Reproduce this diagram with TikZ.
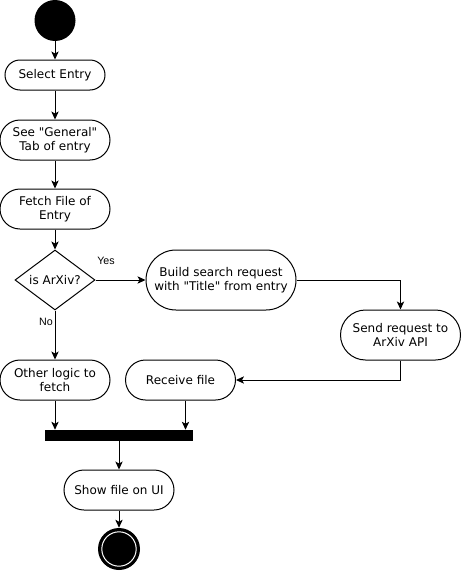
\documentclass[tikz,border=0pt]{standalone}
\usepackage{fontspec}
\setmainfont{DejaVu Sans}[Ligatures=TeXOff]
\newfontfamily\labelfont{Liberation Sans}
\usetikzlibrary{shapes.geometric,arrows.meta}

\tikzset{
  act/.style n args={2}{draw,line width=0.75pt,align=center,inner sep=0pt,
    minimum width=#1*0.75pt,minimum height=#2*0.75pt,rounded corners=#2*0.375pt,
    font=\fontsize{9pt}{10.5pt}\selectfont},
  decision/.style={draw,line width=0.75pt,diamond,aspect=1.333,inner sep=0pt,
    minimum width=60pt,minimum height=45pt,font=\fontsize{9pt}{10.5pt}\selectfont},
  flow/.style={line width=0.75pt,-{Stealth[length=6pt,width=5.5pt,inset=1.5pt]}},
  guard/.style={font=\labelfont\fontsize{8pt}{9.5pt}\selectfont,inner sep=0pt},
}

\begin{document}
\begin{tikzpicture}[x=0.75pt,y=-0.75pt]
  \useasboundingbox[fill=white] (0,0) rectangle (461,571);
  % start and the first steps
  \node[circle,fill=black,minimum size=30.75pt,inner sep=0pt] (start) at (55,20.5) {};
  \node[act={100}{30}] (select) at (55,75) {Select Entry};
  \node[act={110}{40}] (general) at (55,140) {See "General"\\Tab of entry};
  \node[act={110}{40}] (fetch) at (55,209) {Fetch File of\\Entry};
  \node[decision] (arxiv) at (55,280) {is ArXiv?};
  % arXiv branch
  \node[act={150}{60}] (build) at (221,280) {Build search request\\with "Title" from entry};
  \node[act={120}{50}] (send) at (400.5,335) {Send request to\\ArXiv API};
  \node[act={110}{40}] (receive) at (180.5,380) {Receive file};
  \node[act={110}{40}] (other) at (55,380) {Other logic to\\fetch};
  % join and end
  \node[rectangle,fill=black,minimum width=111pt,minimum height=8.25pt,inner sep=0pt] (join) at (119,435.5) {};
  \node[act={110}{40}] (show) at (119,490) {Show file on UI};
  \node[circle,fill=black,minimum size=31.5pt,inner sep=0pt] (stop) at (119,549) {};
  \draw[white,line width=0.75pt] (stop.center) circle[radius=12.9pt];%<- inner ring

  \draw[flow] (start) -- (select);
  \draw[flow] (select) -- (general);
  \draw[flow] (general) -- (fetch);
  \draw[flow] (fetch) -- (arxiv);
  \draw[flow] (arxiv) -- (build);
  \draw[flow] (build.east) -| (send.north);
  \draw[flow] (send.south) |- (receive.east);
  \draw[flow] (arxiv) -- (other);
  \draw[flow] (other) -- (other |- join.north);
  \draw[flow] ([xshift=3.75pt]receive.south) -- ([xshift=3.75pt]receive.south |- join.north);
  \draw[flow] (join) -- (show);
  \draw[flow] (show) -- (stop);

  \node[guard] (yes) at (106,261) {Yes};
  \node[guard] (no) at (46,321.5) {No};
\end{tikzpicture}
\end{document}
